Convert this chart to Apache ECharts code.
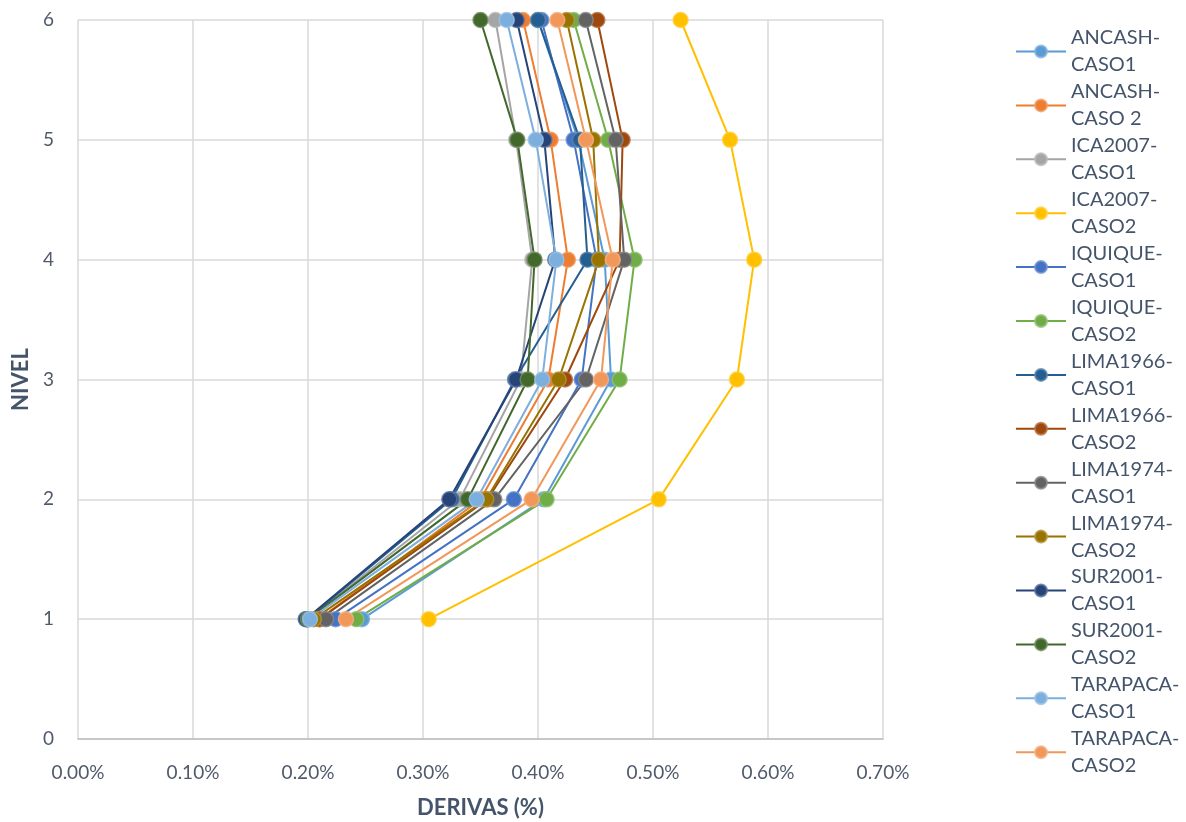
<!DOCTYPE html>
<html>
<head>
<meta charset="utf-8">
<title>Derivas por nivel</title>
<script src="https://cdn.jsdelivr.net/npm/echarts@6/dist/echarts.min.js"></script>
<style>
  html, body { margin: 0; padding: 0; background: #ffffff; }
  #chart { width: 1186px; height: 822px; }
</style>
</head>
<body>
<div id="chart"></div>
<script>
// Story levels (y axis)
const levels = [1, 2, 3, 4, 5, 6];

// Story drifts in percent, levels 1..6
const ancashCaso1   = [0.247, 0.405, 0.4635, 0.458, 0.435, 0.400];
const ancashCaso2   = [0.210, 0.350, 0.409, 0.426, 0.411, 0.387];
const ica2007Caso1  = [0.200, 0.332, 0.385, 0.395, 0.381, 0.363];
const ica2007Caso2  = [0.305, 0.505, 0.573, 0.588, 0.567, 0.524];
const iquiqueCaso1  = [0.224, 0.379, 0.438, 0.451, 0.431, 0.403];
const iquiqueCaso2  = [0.242, 0.4075, 0.471, 0.484, 0.461, 0.431];
const lima1966Caso1 = [0.199, 0.325, 0.380, 0.443, 0.4365, 0.400];
const lima1966Caso2 = [0.210, 0.356, 0.4235, 0.471, 0.4736, 0.4516];
const lima1974Caso1 = [0.2157, 0.362, 0.4417, 0.475, 0.4675, 0.4415];
const lima1974Caso2 = [0.205, 0.355, 0.418, 0.453, 0.448, 0.425];
const sur2001Caso1  = [0.198, 0.3229, 0.381, 0.415, 0.4055, 0.3815];
const sur2001Caso2  = [0.200, 0.339, 0.391, 0.397, 0.382, 0.350];
const tarapacaCaso1 = [0.2017, 0.3467, 0.4037, 0.416, 0.398, 0.3728];
const tarapacaCaso2 = [0.233, 0.3945, 0.4548, 0.465, 0.4417, 0.4168];

const seriesNames = [
  'ANCASH-CASO1', 'ANCASH-CASO 2', 'ICA2007-CASO1', 'ICA2007-CASO2',
  'IQUIQUE-CASO1', 'IQUIQUE-CASO2', 'LIMA1966-CASO1', 'LIMA1966-CASO2',
  'LIMA1974-CASO1', 'LIMA1974-CASO2', 'SUR2001-CASO1', 'SUR2001-CASO2',
  'TARAPACA-CASO1', 'TARAPACA-CASO2'
];
const seriesValues = [
  ancashCaso1, ancashCaso2, ica2007Caso1, ica2007Caso2,
  iquiqueCaso1, iquiqueCaso2, lima1966Caso1, lima1966Caso2,
  lima1974Caso1, lima1974Caso2, sur2001Caso1, sur2001Caso2,
  tarapacaCaso1, tarapacaCaso2
];
const seriesColors = [
  '#5B9BD5', '#ED7D31', '#A5A5A5', '#FFC000',
  '#4472C4', '#70AD47', '#255E91', '#9E480E',
  '#636363', '#997300', '#264478', '#43682B',
  '#7CAFDD', '#F1975A'
];

const xTicks = [0, 0.1, 0.2, 0.3, 0.4, 0.5, 0.6, 0.7];

const FONT = 'Lato, "Open Sans", sans-serif';
const TEXT = '#505a6b';
const TITLE = '#44546A';

const chart = echarts.init(document.getElementById('chart'), null, { renderer: 'canvas' });

const series = seriesNames.map((name, i) => ({
  name: name,
  type: 'line',
  data: seriesValues[i].map((v, k) => [v, levels[k]]),
  symbol: 'circle',
  symbolSize: 15,
  showSymbol: true,
  color: seriesColors[i],
  lineStyle: { width: 2, color: seriesColors[i] },
  itemStyle: {
    color: seriesColors[i],
    borderColor: echarts.color.modifyAlpha(echarts.color.lift(seriesColors[i], 0.25), 0.8),
    borderWidth: 1.5
  },
  emphasis: { disabled: true },
  animation: false,
  z: 2
}));

chart.setOption({
  backgroundColor: '#ffffff',
  animation: false,
  grid: { left: 78, right: 303, top: 20, bottom: 83, containLabel: false, outerBoundsMode: 'none' },
  legend: {
    orient: 'vertical',
    left: 1010,
    top: 6,
    itemWidth: 50,
    itemHeight: 15,
    itemGap: -27.1,
    data: seriesNames,
    formatter: n => n.replace('-', '-\n'),
    textStyle: {
      fontFamily: FONT,
      fontSize: 20,
      color: TITLE,
      lineHeight: 27,
      padding: [27, 0, 0, 0]
    },
    selectedMode: false
  },
  xAxis: {
    type: 'value',
    min: 0,
    max: 0.7,
    interval: 0.1,
    name: 'DERIVAS (%)',
    nameLocation: 'middle',
    nameGap: 58,
    nameTextStyle: { fontFamily: FONT, fontSize: 22, fontWeight: 'bold', color: TITLE },
    axisLine: { show: true, lineStyle: { color: '#BFBFBF', width: 1.5 } },
    axisTick: { show: false },
    splitLine: { show: true, lineStyle: { color: '#D9D9D9', width: 1.5 } },
    axisLabel: {
      margin: 24,
      fontFamily: FONT,
      fontSize: 19,
      color: TEXT,
      customValues: xTicks,
      formatter: v => v.toFixed(2) + '%'
    }
  },
  yAxis: {
    type: 'value',
    min: 0,
    max: 6,
    interval: 1,
    name: 'NIVEL',
    nameLocation: 'middle',
    nameGap: 44,
    nameRotate: 90,
    nameTextStyle: { fontFamily: FONT, fontSize: 22, fontWeight: 'bold', color: TITLE },
    axisLine: { show: false },
    axisTick: { show: false },
    splitLine: { show: true, lineStyle: { color: '#D9D9D9', width: 1.5 } },
    axisLabel: { margin: 24, fontFamily: FONT, fontSize: 19, color: TEXT }
  },
  series: series
});
</script>
</body>
</html>
